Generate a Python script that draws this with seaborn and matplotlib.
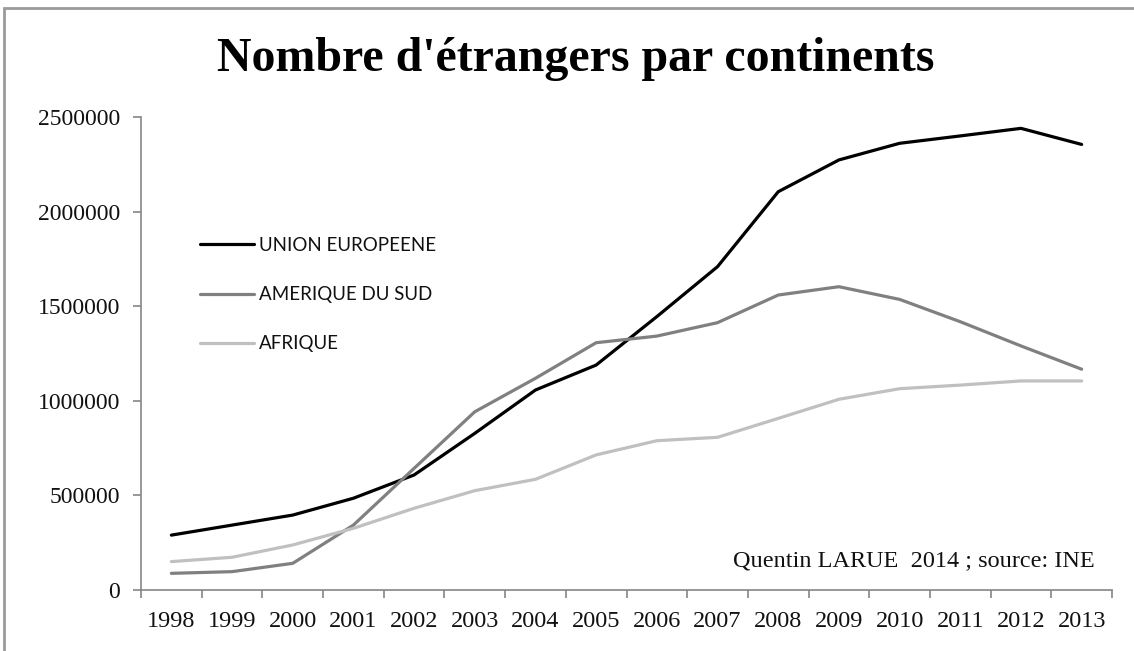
import pandas as pd
import seaborn as sns
import matplotlib.pyplot as plt
from matplotlib.patches import Rectangle
from matplotlib.ticker import FixedLocator

# Data
years = list(range(1998, 2014))
union_europeenne = [290000, 343000, 396000, 485000, 608000, 828000, 1057000, 1189000,
                    1445000, 1709000, 2105000, 2273000, 2361000, 2400000, 2440000, 2355000]
amerique_du_sud = [88000, 97000, 141000, 343000, 643000, 942000, 1119000, 1307000,
                   1342000, 1413000, 1559000, 1603000, 1536000, 1418000, 1290000, 1167000]
afrique = [150000, 173000, 238000, 326000, 432000, 525000, 585000, 714000,
           789000, 807000, 907000, 1008000, 1064000, 1083000, 1105000, 1105000]
series_names = ["UNION EUROPEENE", "AMERIQUE DU SUD", "AFRIQUE"]
series_colors = ["#000000", "#808080", "#c0c0c0"]
y_ticks = [0, 500000, 1000000, 1500000, 2000000, 2500000]

df = pd.DataFrame({
    "annee": years * 3,
    "valeur": union_europeenne + amerique_du_sud + afrique,
    "serie": [series_names[0]] * 16 + [series_names[1]] * 16 + [series_names[2]] * 16,
})

sns.set_theme(style="white")
plt.rcParams["font.family"] = ["Liberation Serif", "DejaVu Serif"]

fig = plt.figure(figsize=(11.34, 6.51), dpi=100)
W, H = 1134, 651
ax = fig.add_axes([141 / W, 1 - 590 / H, (1112 - 141) / W, (590 - 117) / H])

sns.lineplot(
    data=df, x="annee", y="valeur", hue="serie", hue_order=series_names,
    palette=series_colors, linewidth=2.3, ax=ax, legend=True,
)

# axes styling (Excel look)
ax.set_xlim(1997.5, 2013.5)
ax.set_ylim(0, 2500000)
ax.set_xlabel("")
ax.set_ylabel("")
ax.set_xticks(years)
ax.set_xticklabels([str(y) for y in years])
ax.xaxis.set_minor_locator(FixedLocator([1997.5 + i for i in range(17)]))
ax.set_yticks(y_ticks)
ax.set_yticklabels([str(v) for v in y_ticks])
ax.tick_params(axis="x", which="major", length=0, pad=15, labelsize=17.5, labelcolor="#111111")
ax.tick_params(axis="x", which="minor", length=6, width=1.2, color="#868686", direction="out", bottom=True)
ax.tick_params(axis="y", length=6, width=1.2, color="#868686", direction="out", left=True,
               pad=9, labelsize=17, labelcolor="#111111")
for side in ["top", "right"]:
    ax.spines[side].set_visible(False)
for side in ["left", "bottom"]:
    ax.spines[side].set_color("#868686")
    ax.spines[side].set_linewidth(1.2)

# legend inside the plot, upper left
handles, labels = ax.get_legend_handles_labels()
ax.legend(
    handles, labels, loc="upper left", bbox_to_anchor=(200 / W, 1 - 237 / H),
    bbox_transform=fig.transFigure, frameon=False, borderpad=0, borderaxespad=0,
    handlelength=2.9, handletextpad=0.25, labelspacing=1.72,
    prop={"family": "Lato", "size": 13.5},
)
for t in ax.get_legend().get_texts():
    t.set_color("#111111")

fig.text(576 / W, 1 - 59 / H, "Nombre d'étrangers par continents", ha="center", va="center",
         fontsize=34.5, fontweight="bold", color="#000000")
fig.text(1095 / W, 1 - 561 / H, "Quentin LARUE  2014 ; source: INE", ha="right", va="center",
         fontsize=17.5, color="#111111")

# outer chart frame
fig.patches.append(Rectangle((4 / W, -0.1), 1.2, 1 + 0.1 - 8 / H, transform=fig.transFigure,
                             fill=False, edgecolor="#9a9a9a", linewidth=2))

fig.savefig("out.png", dpi=100)
